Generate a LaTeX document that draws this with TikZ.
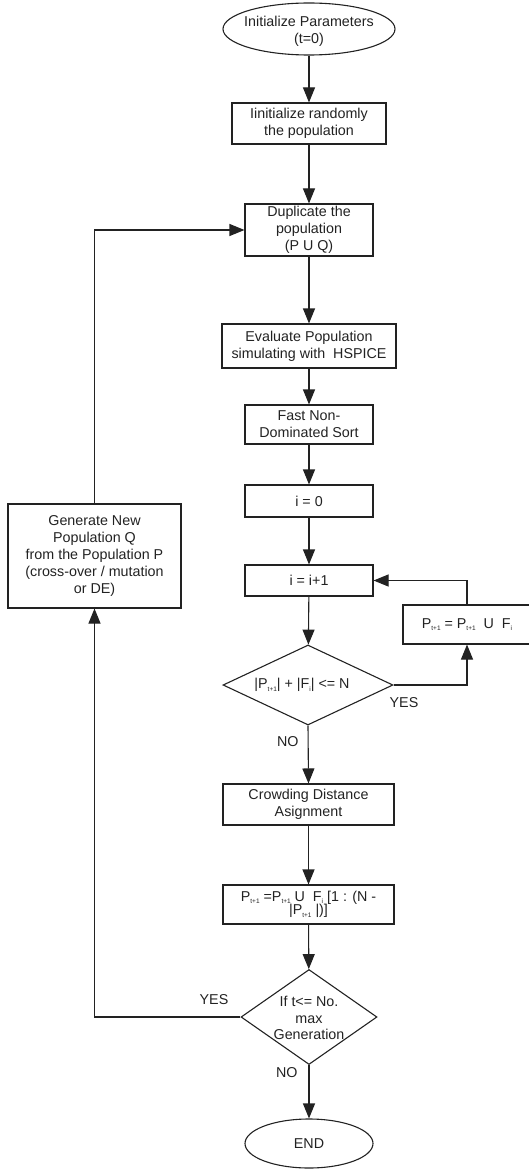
\documentclass[tikz,border=0pt]{standalone}
\usepackage{fontspec}
\setmainfont{Liberation Sans}
\usetikzlibrary{shapes.geometric,arrows.meta}
\newcommand\sbx[1]{\raisebox{-2.5pt}{\fontsize{6.5}{6.5}\selectfont #1}}
\definecolor{ink}{HTML}{222222}
\begin{document}
\begin{tikzpicture}[x=1pt,y=-1pt,
  font=\fontsize{14.3}{16.8}\selectfont,
  ln/.style={line width=1.1pt, draw=ink},
  arr/.style={ln, -{Triangle[length=15pt,width=12pt]}},
  box/.style={draw=ink, line width=1.1pt, rectangle, inner sep=0pt, align=center, text=ink},
  oval/.style={draw=ink, line width=1.1pt, ellipse, inner sep=0pt, text=ink},
  dia/.style={draw=ink, line width=1.1pt, diamond, inner sep=0pt},
  txt/.style={align=center, text=ink, inner sep=0pt},
  lab/.style={text=ink, inner sep=0pt}]
\useasboundingbox (0,0) rectangle (528,1169);

% nodes
\node[oval, minimum width=172pt, minimum height=52pt] (start) at (309,29) {};
\node[txt] (startt) at (309,31) {Initialize Parameters\\(t=0)};
\node[box, minimum width=154pt, minimum height=41pt] (init) at (309,123.5) {Iinitialize randomly\\the population};
\node[box, minimum width=128pt, minimum height=52pt] (dup) at (309,230) {Duplicate the\\population\\(P U Q)};
\node[box, minimum width=174pt, minimum height=44pt] (eval) at (309,346) {Evaluate Population\\simulating with\ \ HSPICE};
\node[box, minimum width=128pt, minimum height=39pt] (fast) at (309,424.5) {Fast Non-\\Dominated Sort};
\node[box, minimum width=128pt, minimum height=32pt] (izero) at (309,501) {i = 0};
\node[box, minimum width=128pt, minimum height=31pt] (iinc) at (309,580.5) {i = i+1};
\node[box, minimum width=128pt, minimum height=39pt] (pbox) at (467,624.5) {P\sbx{t+1} = P\sbx{t+1}\ \ U\ \ F\sbx{i}};
\node[dia, minimum width=170pt, minimum height=80pt] (d1) at (308,685) {};
\node[txt] (d1t) at (302,685) {|P\sbx{t+1}| + |F\sbx{i}| <= N};
\node[box, minimum width=171pt, minimum height=41pt] (crowd) at (308.5,804.5) {Crowding Distance\\Asignment};
\node[box, minimum width=171pt, minimum height=39pt, font=\fontsize{14.3}{13.5}\selectfont] (form) at (308.5,904.5) {P\sbx{t+1} =P\sbx{t+1} U\ \ F\sbx{i} [1 : (N -\\|P\sbx{t+1} |)]};
\node[dia, minimum width=136pt, minimum height=95pt] (d2) at (309,1017) {};
\node[txt] (d2t) at (309,1018) {If t<= No.\\max\\Generation};
\node[oval, minimum width=128pt, minimum height=49pt] (end) at (309,1143.5) {END};
\node[box, minimum width=173pt, minimum height=104pt] (gen) at (94.5,556) {Generate New\\Population Q\\from the Population P\\(cross-over / mutation\\or DE)};

% connectors
\draw[arr] (start) -- (init);
\draw[arr] (init) -- (dup);
\draw[arr] (dup) -- (eval);
\draw[arr] (eval) -- (fast);
\draw[arr] (fast) -- (izero);
\draw[arr] (izero) -- (iinc);
\draw[arr] (iinc) -- (d1);
\draw[arr] (d1.south) -- node[lab, pos=0.28, left=9pt] (no1) {NO} (crowd.north);
\draw[arr] (d1.east) -| (pbox.south);
\node[lab] (yes1) at (404,703) {YES};
\draw[arr] (pbox.north) |- (iinc.east);
\draw[arr] (crowd) -- (form);
\draw[arr] (form) -- (d2);
\draw[arr] (d2.south) -- node[lab, pos=0.15, left=11pt] (no2) {NO} (end.north);
\draw[arr] (d2.west) -| (gen.south);
\node[lab] (yes2) at (214,1000) {YES};
\draw[arr] (gen.north) |- (dup.west);
\end{tikzpicture}
\end{document}
